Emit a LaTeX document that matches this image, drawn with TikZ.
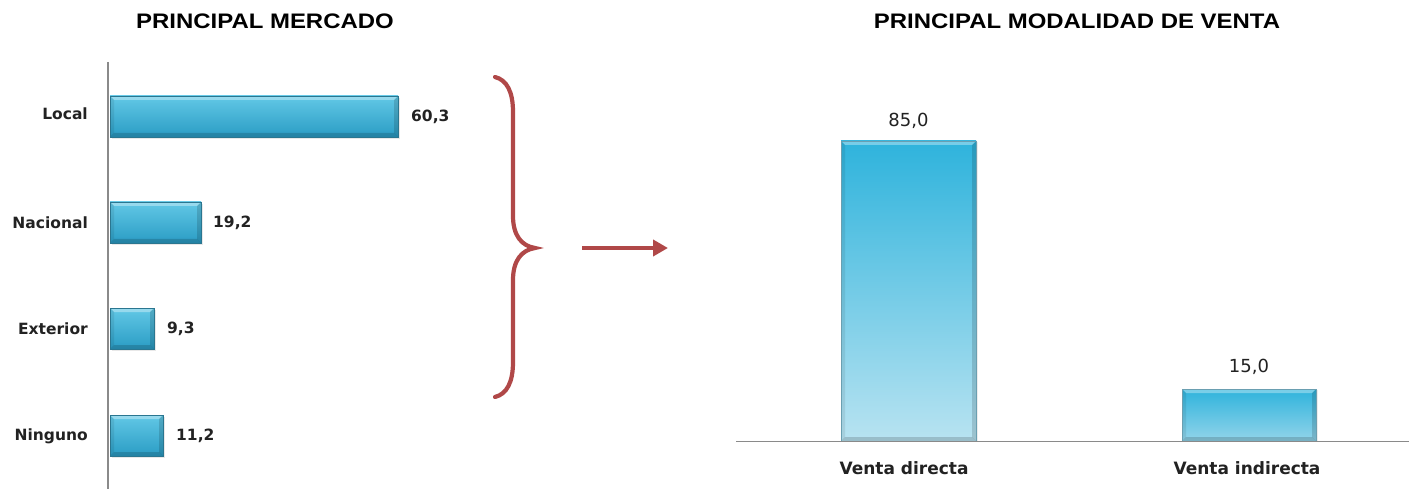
\documentclass[tikz,border=0pt]{standalone}
\usepackage{fontspec}
\setmainfont{DejaVu Sans}
\newfontfamily\titlefont{Liberation Sans}
\usetikzlibrary{arrows.meta,shadows}
\definecolor{bracered}{HTML}{B04848}
\definecolor{axisgray}{HTML}{8A8A8A}
\definecolor{txt}{HTML}{222222}
\definecolor{lbtop}{HTML}{62C8E6}
\definecolor{lbmid}{HTML}{36B5DB}
\definecolor{lbbot}{HTML}{2A9CC4}
\definecolor{barline}{HTML}{2A7690}
\definecolor{rbtop}{HTML}{2EB3DC}
\definecolor{rbbot}{HTML}{B8E3F1}
\definecolor{rbbotb}{HTML}{92D4EA}
\tikzset{
  bevel/.style={path picture={
    \path (path picture bounding box.north west) coordinate (pnw)
          (path picture bounding box.north east) coordinate (pne)
          (path picture bounding box.south west) coordinate (psw)
          (path picture bounding box.south east) coordinate (pse);
    \fill[white,opacity=.35] (pnw) -- (pne) -- ([shift={(-#1,-#1)}]pne) -- ([shift={(#1,-#1)}]pnw) -- cycle;
    \fill[black,opacity=.14] (pne) -- (pse) -- ([shift={(-#1,#1)}]pse) -- ([shift={(-#1,-#1)}]pne) -- cycle;
    \fill[black,opacity=.08] (pnw) -- (psw) -- ([shift={(#1,#1)}]psw) -- ([shift={(#1,-#1)}]pnw) -- cycle;
    \fill[black,opacity=.16] (psw) -- (pse) -- ([shift={(-#1,#1)}]pse) -- ([shift={(#1,#1)}]psw) -- cycle;
  }},
  lbar/.style={draw=barline, line width=.6pt, top color=lbtop, middle color=lbmid, bottom color=lbbot,
     inner sep=0pt, outer sep=0pt, anchor=north west, minimum height=41pt, bevel=4pt,
     drop shadow={opacity=.18, shadow xshift=2pt, shadow yshift=-2pt}},
  rbar/.style={draw=barline!70, line width=.6pt, top color=rbtop, bottom color=rbbot,
     inner sep=0pt, outer sep=0pt, anchor=south west, bevel=4pt,
     drop shadow={opacity=.15, shadow xshift=2pt, shadow yshift=-1pt}},
  catlbl/.style={font=\bfseries\fontsize{15.5}{18}\selectfont, text=txt, anchor=east, inner sep=0pt},
  vallbl/.style={font=\bfseries\fontsize{15.5}{18}\selectfont, text=txt, anchor=west, inner sep=0pt},
  rval/.style={font=\fontsize{18}{21}\selectfont, text=txt, inner sep=0pt},
  rcat/.style={font=\bfseries\fontsize{17}{21}\selectfont, text=txt, inner sep=0pt},
  ttl/.style={font=\titlefont\bfseries\fontsize{21}{24}\selectfont, text=black, inner sep=0pt},
  axisline/.style={draw=axisgray, line width=1.6pt},
  bracestyle/.style={draw=bracered, line width=4.2pt, line cap=round},
}
\begin{document}
\begin{tikzpicture}[x=1pt,y=-1pt]
\useasboundingbox[fill=white] (0,0) rectangle (1409,489);

% titles
\node[ttl] (t1) at (265,21) {\scalebox{1.14}[1]{PRINCIPAL MERCADO}};
\node[ttl] (t2) at (1077,21) {\scalebox{1.14}[1]{PRINCIPAL MODALIDAD DE VENTA}};

% left chart
\coordinate (ax1) at (108,62);
\coordinate (ax2) at (108,489);
\draw[axisline] (ax1) -- (ax2);

\node[lbar, minimum width=288pt] (bl) at (110,96) {};
\node[lbar, minimum width=91pt] (bn) at (110,202) {};
\node[lbar, minimum width=44pt] (be) at (110,308) {};
\node[lbar, minimum width=53pt] (bg) at (110,415) {};

\node[catlbl] (cl) at (88,114) {Local};
\node[catlbl] (cn) at (88,223) {Nacional};
\node[catlbl] (ce) at (88,329) {Exterior};
\node[catlbl] (cg) at (88,436) {Ninguno};

\node[vallbl] (vl) at ([xshift=13pt]bl.east) {60,3};
\node[vallbl] (vn) at ([xshift=12pt]bn.east) {19,2};
\node[vallbl] (ve) at ([xshift=13pt]be.east) {9,3};
\node[vallbl] (vg) at ([xshift=13pt]bg.east) {11,2};

% brace and arrow
\draw[bracestyle] (495,77) .. controls (507,80) and (513,92) .. (513,112)
  -- (513,216) .. controls (513,236) and (522,246) .. (535,248)
  .. controls (522,250) and (513,260) .. (513,280)
  -- (513,362) .. controls (513,382) and (507,394) .. (495,397);
\coordinate (ar1) at (582,248);
\coordinate (ar2) at (668,248);
\draw[draw=bracered, line width=4pt, -{Triangle[length=15pt,width=16pt]}] (ar1) -- (ar2);

% right chart
\node[rbar, minimum width=135pt, minimum height=300pt] (rb1) at (841,441) {};
\node[rbar, minimum width=134pt, minimum height=52pt, bottom color=rbbotb] (rb2) at (1182,441) {};
\coordinate (bs1) at (736,441.5);
\coordinate (bs2) at (1409,441.5);
\draw[axisline] (bs1) -- (bs2);

\node[rval] (rv1) at ([yshift=20pt]rb1.north) {85,0};
\node[rval] (rv2) at ([yshift=22pt]rb2.north) {15,0};
\node[rcat] (rc1) at (904,468) {Venta directa};
\node[rcat] (rc2) at (1247,468) {Venta indirecta};
\end{tikzpicture}
\end{document}
